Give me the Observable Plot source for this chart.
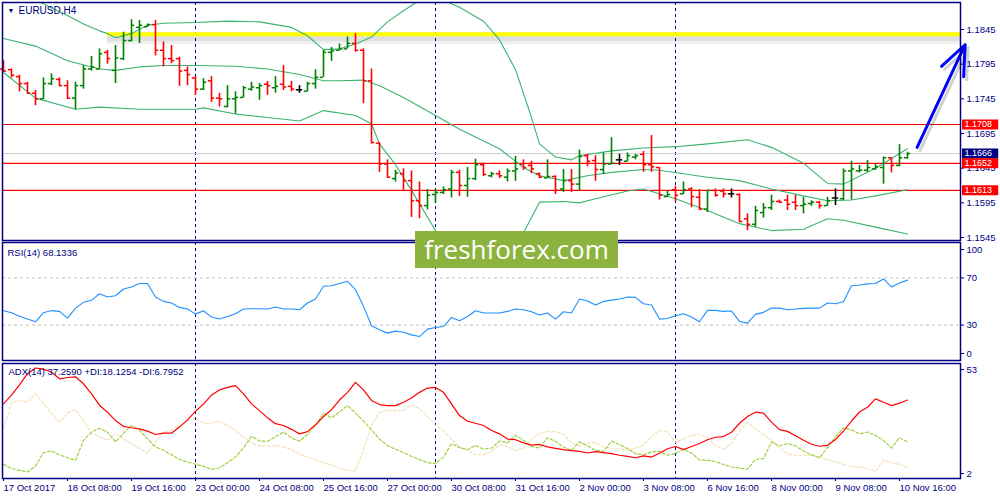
<!DOCTYPE html>
<html>
<head>
<meta charset="utf-8">
<script src="https://cdn.jsdelivr.net/npm/d3@7"></script>
<script src="https://cdn.jsdelivr.net/npm/@observablehq/plot@0.6"></script>
<style>
  body { margin: 0; background: #fff; }
  #chart { position: relative; width: 1000px; height: 500px; overflow: hidden; }
  #chart svg { position: absolute; left: 0; }
  #logo {
    position: absolute; left: 415px; top: 231px; width: 203px; height: 37px;
    background: #8db33f; color: #fff; font: 26px "Open Sans", sans-serif;
    line-height: 36px; text-align: center;
  }
</style>
</head>
<body>
<div id="chart"></div>
<script>
// EURUSD H4 bars, 17 Oct 00:00 .. 10 Nov 20:00, [open, high, low, close]
const ohlc = [
  [1.1788,1.1800,1.1783,1.1785],[1.1787,1.1788,1.1775,1.1779],[1.1777,1.1779,1.1755,1.1767],[1.1767,1.1769,1.1752,1.1753],
  [1.1753,1.1757,1.1735,1.1745],[1.1745,1.1775,1.1744,1.1767],[1.1767,1.1781,1.1764,1.1774],[1.1773,1.1775,1.1763,1.1764],
  [1.1764,1.1771,1.1744,1.1746],[1.1746,1.1769,1.1729,1.1764],[1.1764,1.1793,1.1759,1.1788],[1.1788,1.1806,1.1785,1.1791],
  [1.1788,1.1817,1.1787,1.1810],[1.1812,1.1815,1.1795,1.1803],[1.1786,1.1822,1.1767,1.1804],[1.1803,1.1841,1.1800,1.1829],
  [1.1829,1.1859,1.1827,1.1851],[1.1848,1.1858,1.1825,1.1851],[1.1849,1.1853,1.1848,1.1852],[1.1852,1.1858,1.1807,1.1815],
  [1.1815,1.1827,1.1791,1.1803],[1.1803,1.1822,1.1796,1.1800],[1.1803,1.1805,1.1763,1.1785],[1.1786,1.1791,1.1764,1.1780],
  [1.1775,1.1777,1.1750,1.1759],[1.1759,1.1774,1.1757,1.1769],[1.1771,1.1777,1.1740,1.1746],[1.1746,1.1753,1.1733,1.1745],
  [1.1734,1.1764,1.1732,1.1745],[1.1745,1.1755,1.1723,1.1747],[1.1747,1.1763,1.1746,1.1761],[1.1759,1.1769,1.1756,1.1762],
  [1.1761,1.1767,1.1743,1.1764],[1.1766,1.1770,1.1750,1.1764],[1.1761,1.1777,1.1753,1.1763],[1.1766,1.1793,1.1757,1.1762],
  [1.1763,1.1770,1.1755,1.1759],[1.1758,1.1764,1.1753,1.1758],[1.1756,1.1769,1.1755,1.1767],[1.1767,1.1787,1.1759,1.1776],
  [1.1776,1.1815,1.1776,1.1812],[1.1812,1.1819,1.1799,1.1814],[1.1815,1.1824,1.1814,1.1817],[1.1817,1.1834,1.1817,1.1825],
  [1.1825,1.1839,1.1812,1.1815],[1.1815,1.1817,1.1738,1.1771],[1.1771,1.1788,1.1680,1.1682],[1.1681,1.1682,1.1639,1.1651],
  [1.1651,1.1657,1.1630,1.1632],[1.1630,1.1642,1.1625,1.1638],[1.1637,1.1644,1.1613,1.1627],[1.1627,1.1641,1.1574,1.1598],
  [1.1598,1.1625,1.1572,1.1591],[1.1591,1.1614,1.1585,1.1606],[1.1607,1.1615,1.1594,1.1610],[1.1610,1.1618,1.1607,1.1614],
  [1.1615,1.1642,1.1602,1.1639],[1.1639,1.1642,1.1604,1.1620],[1.1620,1.1646,1.1603,1.1630],[1.1630,1.1658,1.1627,1.1650],
  [1.1650,1.1652,1.1633,1.1636],[1.1634,1.1639,1.1631,1.1637],[1.1637,1.1641,1.1630,1.1634],[1.1632,1.1644,1.1625,1.1641],
  [1.1641,1.1662,1.1626,1.1644],[1.1651,1.1657,1.1642,1.1646],[1.1649,1.1655,1.1637,1.1644],[1.1637,1.1638,1.1630,1.1632],
  [1.1631,1.1657,1.1630,1.1633],[1.1633,1.1634,1.1607,1.1613],[1.1615,1.1643,1.1610,1.1627],[1.1627,1.1643,1.1610,1.1622],
  [1.1622,1.1671,1.1612,1.1662],[1.1663,1.1665,1.1647,1.1655],[1.1656,1.1663,1.1626,1.1643],[1.1643,1.1667,1.1636,1.1651],
  [1.1651,1.1689,1.1650,1.1652],[1.1657,1.1665,1.1649,1.1657],[1.1655,1.1667,1.1654,1.1663],[1.1661,1.1665,1.1657,1.1663],
  [1.1665,1.1669,1.1639,1.1650],[1.1650,1.1692,1.1639,1.1647],[1.1646,1.1646,1.1599,1.1606],[1.1604,1.1612,1.1603,1.1607],
  [1.1614,1.1619,1.1596,1.1606],[1.1608,1.1625,1.1607,1.1614],[1.1615,1.1617,1.1588,1.1604],[1.1603,1.1614,1.1584,1.1586],
  [1.1586,1.1613,1.1581,1.1613],[1.1613,1.1615,1.1603,1.1606],[1.1612,1.1615,1.1602,1.1608],[1.1608,1.1615,1.1602,1.1608],
  [1.1607,1.1608,1.1567,1.1568],[1.1572,1.1579,1.1555,1.1564],[1.1564,1.1590,1.1560,1.1584],[1.1581,1.1594,1.1573,1.1588],
  [1.1588,1.1606,1.1584,1.1597],[1.1597,1.1599,1.1594,1.1596],[1.1599,1.1606,1.1584,1.1593],[1.1596,1.1606,1.1584,1.1591],
  [1.1591,1.1603,1.1579,1.1593],[1.1594,1.1598,1.1590,1.1596],[1.1596,1.1597,1.1586,1.1591],[1.1591,1.1603,1.1590,1.1598],
  [1.1602,1.1615,1.1591,1.1602],[1.1601,1.1644,1.1598,1.1641],[1.1641,1.1655,1.1599,1.1644],[1.1641,1.1649,1.1638,1.1642],
  [1.1642,1.1656,1.1639,1.1646],[1.1644,1.1651,1.1642,1.1647],[1.1646,1.1661,1.1622,1.1660],[1.1660,1.1660,1.1638,1.1649],
  [1.1649,1.1679,1.1647,1.1660],[1.1660,1.1668,1.1658,1.1666]
];

// Bollinger bands, [bar, price]
const upperBand = [[0,1.1905],[2,1.1897],[4,1.1888],[6,1.1876],[8,1.1865],[10,1.1853],[12,1.1843],[13,1.1839],[14,1.1833],
  [16,1.1839],[18,1.1851],[20,1.1854],[24,1.1855],[28,1.1857],[32,1.1856],[36,1.1848],[38,1.1836],[40,1.1816],[42,1.1817],
  [44,1.1824],[46,1.1834],[48,1.1856],[50,1.1872],[52,1.1887],[53,1.1893],[55,1.1887],[57,1.1877],[60,1.1857],[62,1.1830],
  [64,1.1787],[66,1.1718],[67,1.1680],[69,1.1661],[71,1.1657],[72,1.1663],[76,1.1670],[80,1.1674],[84,1.1676],[88,1.1680],
  [93,1.1686],[96,1.1675],[100,1.1652],[103,1.1623],[105,1.1622],[109,1.1645],[113,1.1673]];
const middleBand = [[0,1.1832],[4,1.1821],[8,1.1800],[12,1.1788],[14,1.1786],[17,1.1791],[20,1.1793],[24,1.1793],[29,1.1792],
  [33,1.1788],[37,1.1780],[40,1.1771],[42,1.1771],[45,1.1772],[47,1.1764],[50,1.1747],[54,1.1721],[57,1.1701],[62,1.1673],
  [65,1.1646],[67,1.1634],[70,1.1627],[73,1.1634],[76,1.1639],[80,1.1643],[82,1.1642],[85,1.1637],[88,1.1632],[92,1.1627],
  [96,1.1615],[100,1.1605],[103,1.1598],[106,1.1599],[109,1.1605],[113,1.1614]];
const lowerBand = [[0,1.1783],[4,1.1746],[9,1.1730],[12,1.1733],[17,1.1730],[24,1.1730],[25,1.1732],[29,1.1723],[33,1.1718],
  [37,1.1713],[40,1.1728],[44,1.1721],[46,1.1709],[47,1.1680],[49,1.1650],[51,1.1613],[54,1.1555],[56,1.1532],[58,1.1518],
  [60,1.1510],[62,1.1513],[64,1.1532],[65,1.1552],[67,1.1596],[70,1.1597],[72,1.1595],[74,1.1601],[78,1.1612],[80,1.1615],
  [84,1.1601],[88,1.1584],[92,1.1565],[96,1.1555],[100,1.1557],[103,1.1572],[105,1.1570],[109,1.1560],[113,1.1550]];

// RSI(14), one value per bar
const rsi = [42.2,40.5,37.5,35.1,32.8,40.5,42.3,41.6,35.9,44.4,49.3,51.0,56.6,53.8,54.9,60.6,62.3,65.2,65.2,53.8,
  50.1,48.7,45.0,43.6,39.3,42.2,36.8,35.1,37.3,39.6,43.6,43.9,43.9,43.6,45.3,43.6,43.6,43.0,48.7,52.1,
  62.9,63.4,65.2,67.1,60.0,45.9,29.4,26.0,23.2,24.9,24.0,21.7,20.3,26.6,28.0,28.8,36.5,33.7,37.3,42.2,
  40.2,40.2,40.2,41.6,43.6,43.0,41.3,38.5,40.2,35.1,41.3,40.2,52.1,50.4,47.0,50.1,51.2,52.1,53.8,53.5,
  48.1,47.0,35.1,35.6,37.9,39.6,36.8,32.8,42.5,42.5,41.6,41.9,33.1,31.7,39.1,40.8,44.4,44.4,43.0,43.6,
  44.2,44.4,44.4,48.7,48.1,49.8,63.4,64.0,64.9,65.2,69.1,62.3,65.7,68.1];

// ADX(14), +DI, -DI, one value per bar
const adx = [35.1,39.0,43.5,48.5,51.0,50.5,49.1,46.2,46.8,47.1,44.0,39.5,34.5,31.4,27.7,25.1,24.5,24.0,23.0,21.5,
  22.1,22.1,24.8,28.0,31.8,35.0,39.0,41.3,42.4,43.2,39.5,35.1,32.1,28.9,26.3,25.5,23.8,21.8,22.8,25.8,
  29.5,32.5,36.8,40.2,44.6,41.3,36.6,34.8,34.3,34.3,35.8,37.7,40.2,42.1,42.4,40.2,35.1,29.9,27.4,26.5,
  25.5,23.3,21.8,19.5,19.2,17.8,16.8,17.1,16.0,15.4,14.8,14.4,14.0,13.3,13.9,13.5,13.0,12.3,11.8,11.2,
  12.0,11.5,13.2,15.2,16.2,14.8,16.2,17.5,19.2,20.3,20.6,22.5,26.5,29.5,31.4,31.0,27.0,23.7,22.9,21.0,
  19.0,17.2,16.3,16.7,19.3,23.0,27.5,31.5,33.6,37.3,35.8,34.3,35.4,36.8];
const plusDI = [8.3,6.4,5.6,4.9,7.5,13.5,14.2,12.5,11.2,10.1,18.9,22.6,24.3,22.6,18.2,22.1,25.5,23.3,19.6,16.0,
  14.5,12.5,10.5,9.3,8.3,7.4,6.0,6.8,9.0,11.5,15.5,20.7,18.6,18.5,20.5,22.6,20.0,18.5,21.5,25.5,
  31.0,28.9,31.5,34.3,31.0,27.5,23.5,19.5,16.5,15.0,13.5,11.8,10.4,9.0,8.6,11.5,17.4,15.7,14.8,16.7,
  15.0,15.5,18.6,17.8,21.1,19.0,16.2,15.5,20.1,18.5,16.0,14.5,18.2,16.5,14.5,14.0,18.6,17.0,15.3,13.0,
  12.5,13.8,14.0,12.3,13.0,15.0,13.3,10.2,10.1,9.5,8.2,7.1,6.6,6.1,10.5,10.8,18.2,16.4,17.5,16.5,
  14.2,12.5,11.2,15.7,20.5,24.5,23.5,21.8,22.6,21.1,18.9,15.5,20.1,18.2];
const minusDI = [24.0,35.5,36.8,35.8,39.5,35.1,30.7,27.0,31.0,32.5,27.5,22.0,20.5,18.9,21.8,19.6,17.4,15.2,13.3,18.2,
  22.6,23.3,25.5,27.5,28.9,26.5,26.5,27.5,25.5,23.3,20.4,17.8,16.5,16.3,16.7,16.0,14.8,12.8,11.5,10.2,
  9.0,8.0,6.5,5.7,5.4,15.2,25.5,31.4,32.2,32.0,32.3,34.6,33.0,29.5,25.5,23.0,19.5,16.0,14.7,12.5,
  12.5,14.0,17.0,16.2,14.5,15.5,19.5,22.0,22.8,22.8,21.5,17.8,16.4,17.8,17.8,16.2,15.2,15.2,14.5,15.5,
  17.0,20.5,23.5,22.6,18.0,19.5,21.2,21.5,20.2,16.5,15.0,17.5,23.0,27.0,24.0,21.5,19.0,15.5,12.8,12.3,
  12.3,12.2,11.5,10.3,9.6,8.2,7.3,7.1,6.4,5.2,10.1,8.9,8.3,6.8];

// levels and labels
const redLevels = [1.1708, 1.1652, 1.1613];
const currentPrice = 1.1666;
const yellowLevel = 1.1838;
const yellowStart = 13;
const priceTicks = [1.1545, 1.1595, 1.1645, 1.1695, 1.1745, 1.1795, 1.1845];
const priceTags = [
  {v: 1.1708, bg: "#ff0000"},
  {v: 1.1666, bg: "#000080"},
  {v: 1.1652, bg: "#ff0000"},
  {v: 1.1613, bg: "#ff0000"}
];
const weekStarts = [24, 54, 84];
const tickBars = [0, 8, 16, 24, 32, 40, 48, 56, 64, 72, 80, 88, 96, 104, 112];
const tickLabels = ["17 Oct 2017", "18 Oct 08:00", "19 Oct 16:00", "23 Oct 00:00", "24 Oct 08:00",
  "25 Oct 16:00", "27 Oct 00:00", "30 Oct 08:00", "31 Oct 16:00", "2 Nov 00:00", "3 Nov 08:00",
  "6 Nov 16:00", "8 Nov 00:00", "9 Nov 08:00", "10 Nov 16:00"];
const forecast = [{x1: 114.2, y1: 1.1675, x2: 120.2, y2: 1.1823}];

const navy = "#000080";
const up = "#008000", down = "#ff0000", flat = "#000000";
const xMax = 119.625;          // right edge of the panels
const tagX1 = 119.875, tagX2 = 124.4;

const bars = ohlc.map(([o, h, l, c], i) => ({i, o, h, l, c, col: c > o ? up : c < o ? down : flat}));

const common = {
  width: 1000,
  marginLeft: 2,
  marginRight: 40,
  x: {domain: [-0.125, xMax], axis: null},
  color: {type: "identity"},
  style: {
    fontFamily: "'Liberation Sans', Arial, sans-serif",
    fontSize: "9.5px",
    color: navy,
    background: "transparent",
    overflow: "visible"
  }
};

const seps = () => Plot.ruleX(weekStarts, {stroke: navy, strokeDasharray: "3,3"});

// main price panel
const main = Plot.plot({
  ...common,
  height: 241,
  marginTop: 2,
  marginBottom: 1,
  y: {domain: [1.15407, 1.18839], axis: null},
  marks: [
    seps(),
    Plot.ruleY([yellowLevel], {x1: yellowStart, x2: xMax, stroke: "#000", strokeOpacity: 0.06, strokeWidth: 12, dy: 4}),
    Plot.ruleY([yellowLevel], {x1: yellowStart, x2: xMax, stroke: "#000", strokeOpacity: 0.07, strokeWidth: 6, dy: 4}),
    Plot.ruleY([yellowLevel], {x1: yellowStart, x2: xMax, stroke: "#ffff00", strokeWidth: 4}),
    Plot.ruleY([currentPrice], {stroke: "#cfcfcf"}),
    Plot.ruleY(redLevels, {stroke: "#ff0000", strokeWidth: 1.2}),
    Plot.line(upperBand, {stroke: "#3cb371", strokeWidth: 1.1, clip: true}),
    Plot.line(middleBand, {stroke: "#3cb371", strokeWidth: 1.1, clip: true}),
    Plot.line(lowerBand, {stroke: "#3cb371", strokeWidth: 1.1, clip: true}),
    Plot.ruleX(bars, {x: "i", y1: "l", y2: "h", stroke: "col", strokeWidth: 1.6}),
    Plot.ruleY(bars, {y: "o", x1: d => d.i - 0.4, x2: "i", stroke: "col", strokeWidth: 1.5}),
    Plot.ruleY(bars, {y: "c", x1: "i", x2: d => d.i + 0.4, stroke: "col", strokeWidth: 1.5}),
    Plot.arrow(forecast, {x1: "x1", y1: "y1", x2: "x2", y2: "y2", stroke: "#000", strokeOpacity: 0.18,
      strokeWidth: 3, headLength: 16, headAngle: 45, dx: 3, dy: 3}),
    Plot.arrow(forecast, {x1: "x1", y1: "y1", x2: "x2", y2: "y2", stroke: "#0000ff",
      strokeWidth: 3, headLength: 16, headAngle: 45}),
    Plot.axisY(priceTicks, {anchor: "right", tickSize: 3, tickPadding: 3, tickFormat: d => d.toFixed(4), label: null}),
    Plot.ruleY(priceTags, {y: "v", x1: tagX1, x2: tagX2, stroke: "bg", strokeWidth: 10}),
    Plot.text(priceTags, {y: "v", x: tagX1, text: d => d.v.toFixed(4), fill: "#fff", textAnchor: "start", dx: 2, fontSize: 9}),
    Plot.text(["\u25BC"], {frameAnchor: "top-left", dx: 5, dy: 8, lineAnchor: "middle", textAnchor: "start", fontSize: 7, fill: navy}),
    Plot.text(["EURUSD,H4"], {frameAnchor: "top-left", dx: 16, dy: 8, lineAnchor: "middle", textAnchor: "start", fontSize: 10, fill: navy}),
    Plot.frame({stroke: navy, strokeWidth: 1.5})
  ]
});

// RSI panel
const rsiPanel = Plot.plot({
  ...common,
  height: 122,
  marginTop: 2,
  marginBottom: 2,
  y: {domain: [0, 100], axis: null},
  marks: [
    seps(),
    Plot.ruleY([30, 70], {stroke: "#c0c0c0", strokeDasharray: "3,3"}),
    Plot.line(rsi, {x: (d, i) => i, y: d => d, stroke: "#1e90ff", strokeWidth: 1.1}),
    Plot.axisY([100], {anchor: "right", tickSize: 3, tickPadding: 3, dy: 7, label: null}),
    Plot.axisY([70, 30], {anchor: "right", tickSize: 3, tickPadding: 3, label: null}),
    Plot.axisY([0], {anchor: "right", tickSize: 3, tickPadding: 3, dy: -7, label: null}),
    Plot.text(["RSI(14) 68.1336"], {frameAnchor: "top-left", dx: 5, dy: 10, lineAnchor: "middle", textAnchor: "start", fill: navy}),
    Plot.frame({stroke: navy, strokeWidth: 1.5})
  ]
});

// ADX panel
const adxPanel = Plot.plot({
  ...common,
  height: 139,
  marginTop: 2,
  marginBottom: 22,
  y: {domain: [2, 53], axis: null},
  marks: [
    seps(),
    Plot.line(minusDI, {x: (d, i) => i, y: d => d, stroke: "#f5deb3", strokeWidth: 1.1, strokeDasharray: "3,2"}),
    Plot.line(plusDI, {x: (d, i) => i, y: d => d, stroke: "#9acd32", strokeWidth: 1.1, strokeDasharray: "3,2"}),
    Plot.line(adx, {x: (d, i) => i, y: d => d, stroke: "#ff0000", strokeWidth: 1.2}),
    Plot.axisY([53], {anchor: "right", tickSize: 3, tickPadding: 3, dy: 6, label: null}),
    Plot.axisY([2], {anchor: "right", tickSize: 3, tickPadding: 3, dy: -5, label: null}),
    Plot.axisX(tickBars, {anchor: "bottom", tickSize: 3, tickPadding: 3, textAnchor: "start",
      tickFormat: d => tickLabels[tickBars.indexOf(d)], label: null}),
    Plot.text(["ADX(14) 37.2590 +DI:18.1254 -DI:6.7952"], {frameAnchor: "top-left", dx: 6, dy: 8, lineAnchor: "middle", textAnchor: "start", fill: navy}),
    Plot.frame({stroke: navy, strokeWidth: 1.5})
  ]
});

const chart = document.getElementById("chart");
main.style.top = "0px";
rsiPanel.style.top = "240px";
adxPanel.style.top = "361px";
chart.appendChild(main);
chart.appendChild(rsiPanel);
chart.appendChild(adxPanel);

const logo = document.createElement("div");
logo.id = "logo";
logo.textContent = "freshforex.com";
chart.appendChild(logo);
</script>
</body>
</html>
